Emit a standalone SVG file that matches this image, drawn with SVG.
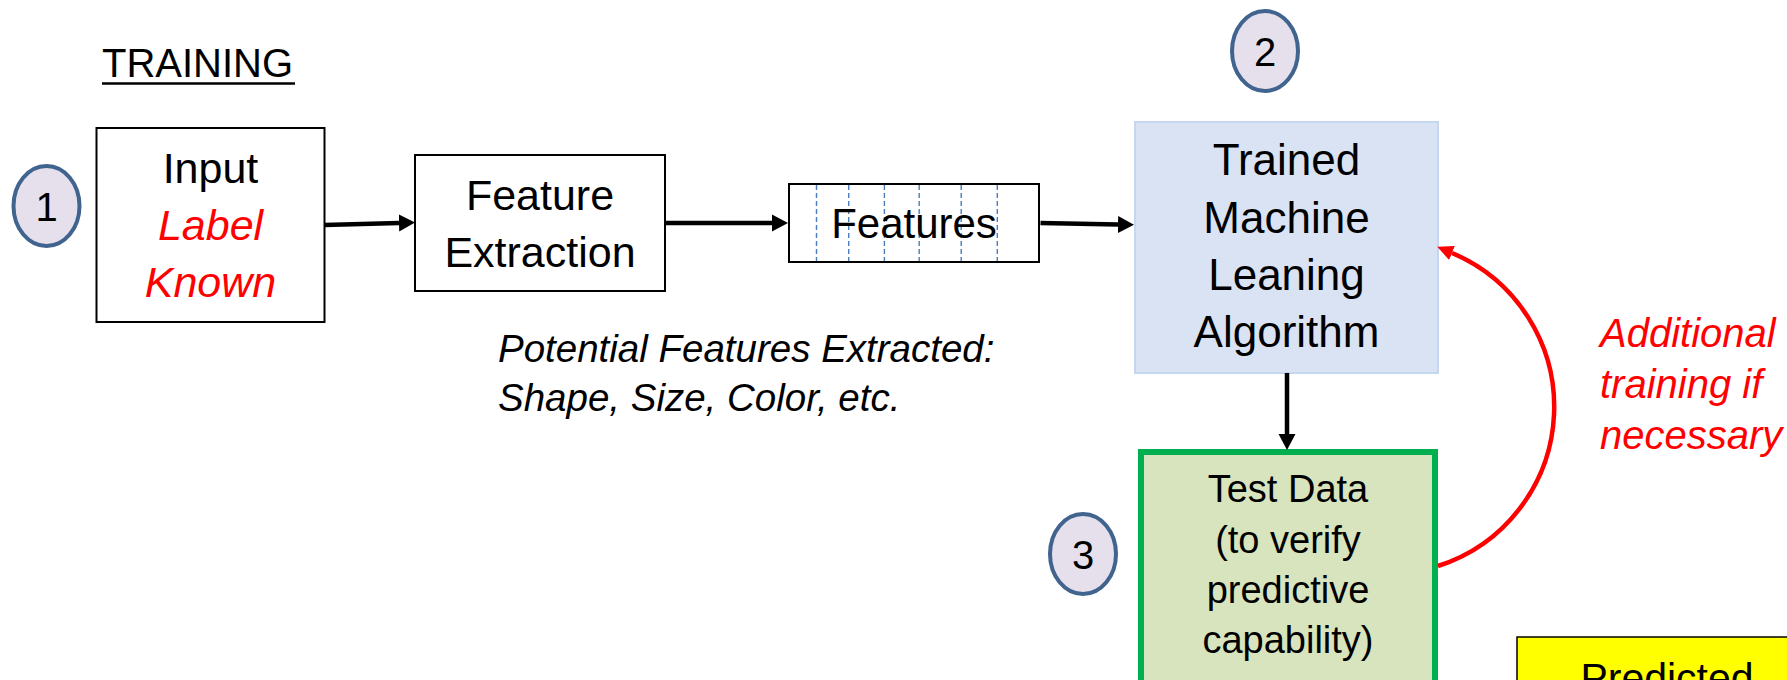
<svg xmlns="http://www.w3.org/2000/svg" width="1787" height="680" viewBox="0 0 1787 680">
  <style>
    text { font-family: "Liberation Sans", Arial, sans-serif; fill: #000; }
    .c { text-anchor: middle; }
    .big { font-size: 43px; }
    .ml { font-size: 44px; }
    .mid { font-size: 38px; }
    .it { font-style: italic; }
    .red { fill: #ff0000; }
    .box { fill: #fff; stroke: #000; stroke-width: 2; }
    .badge { fill: #e5e0ec; stroke: #41648f; stroke-width: 4; }
    .num { font-size: 40px; text-anchor: middle; }
    .arrow { stroke: #000; stroke-width: 4.5; fill: none; marker-end: url(#head); }
    .dash { stroke: #4a7ebb; stroke-width: 1.4; stroke-dasharray: 5 3; }
  </style>
  <defs>
    <marker id="head" markerUnits="userSpaceOnUse" markerWidth="18" markerHeight="18" refX="0" refY="9" orient="auto" viewBox="0 0 18 18">
      <path d="M0,0.5 L16,9 L0,17.5 Z" fill="#000"/>
    </marker>
    <marker id="headRed" markerUnits="userSpaceOnUse" markerWidth="18" markerHeight="18" refX="0" refY="9" orient="auto" viewBox="0 0 18 18">
      <path d="M0,1.5 L16,9 L0,16.5 Z" fill="#ff0000"/>
    </marker>
  </defs>

  <rect width="1787" height="680" fill="#fff"/>

  <!-- heading -->
  <g id="title">
    <text x="102" y="77" font-size="40">TRAINING</text>
    <line x1="102" y1="83.5" x2="295" y2="83.5" stroke="#000" stroke-width="2.5"/>
  </g>

  <!-- step badges -->
  <g id="badge1">
    <ellipse class="badge" cx="46.5" cy="206" rx="33" ry="40"/>
    <text class="num" x="46.5" y="221">1</text>
  </g>
  <g id="badge2">
    <ellipse class="badge" cx="1265" cy="51" rx="33" ry="40"/>
    <text class="num" x="1265" y="66">2</text>
  </g>
  <g id="badge3">
    <ellipse class="badge" cx="1083" cy="554" rx="33" ry="40"/>
    <text class="num" x="1083" y="569">3</text>
  </g>

  <!-- input -->
  <g id="input">
    <rect class="box" x="96.5" y="128" width="228" height="194"/>
    <text class="c big" x="210.5" y="183">Input</text>
    <text class="c big it red" x="210.5" y="240">Label</text>
    <text class="c big it red" x="210.5" y="297">Known</text>
  </g>

  <!-- feature extraction -->
  <g id="feature-extraction">
    <rect class="box" x="415" y="155" width="250" height="136"/>
    <text class="c big" x="540" y="210">Feature</text>
    <text class="c big" x="540" y="267">Extraction</text>
  </g>

  <!-- feature vector -->
  <g id="features">
    <rect class="box" x="789" y="184" width="250" height="78"/>
    <line class="dash" x1="816.5" y1="185" x2="816.5" y2="261"/>
    <line class="dash" x1="848.7" y1="185" x2="848.7" y2="261"/>
    <line class="dash" x1="884.4" y1="185" x2="884.4" y2="261"/>
    <line class="dash" x1="919.2" y1="185" x2="919.2" y2="261"/>
    <line class="dash" x1="961.2" y1="185" x2="961.2" y2="261"/>
    <line class="dash" x1="997.3" y1="185" x2="997.3" y2="261"/>
    <text class="c" x="914" y="238" font-size="42">Features</text>
  </g>

  <!-- note under the pipeline -->
  <g id="feature-note">
    <text class="it" x="498" y="362" font-size="38.5">Potential Features Extracted:</text>
    <text class="it" x="498" y="411" font-size="38.5">Shape, Size, Color, etc.</text>
  </g>

  <!-- model -->
  <g id="ml-algorithm">
    <rect x="1135" y="122" width="303" height="251" fill="#dae3f3" stroke="#c6d6ee" stroke-width="2"/>
    <text class="c ml" x="1286.5" y="175">Trained</text>
    <text class="c ml" x="1286.5" y="233">Machine</text>
    <text class="c ml" x="1286.5" y="290">Leaning</text>
    <text class="c ml" x="1286.5" y="347">Algorithm</text>
  </g>

  <!-- test data -->
  <g id="test-data">
    <rect x="1141" y="452" width="294" height="260" fill="#d7e4bd" stroke="#00b050" stroke-width="6"/>
    <text class="c mid" x="1288" y="502">Test Data</text>
    <text class="c mid" x="1288" y="553">(to verify</text>
    <text class="c mid" x="1288" y="603">predictive</text>
    <text class="c mid" x="1288" y="653">capability)</text>
  </g>

  <!-- retraining note -->
  <g id="retrain-note">
    <text class="it red" x="1600" y="347" font-size="40">Additional</text>
    <text class="it red" x="1600" y="398" font-size="40">training if</text>
    <text class="it red" x="1600" y="449" font-size="40">necessary</text>
  </g>

  <!-- prediction output -->
  <g id="predicted">
    <rect x="1517" y="637" width="320" height="100" fill="#ffff00" stroke="#000" stroke-width="1.5"/>
    <text class="c" x="1667" y="692" font-size="41">Predicted</text>
  </g>

  <!-- connectors -->
  <g id="connectors">
    <path class="arrow" d="M324.5,225 L399,223"/>
    <path class="arrow" d="M665.5,223 L772,223"/>
    <path class="arrow" d="M1040.5,223 L1118,224.5"/>
    <path class="arrow" d="M1287,373 L1287,434" stroke-width="4"/>
    <path d="M1438,566 A167,167 0 0 0 1452,253" fill="none" stroke="#ff0000" stroke-width="4.5" marker-end="url(#headRed)"/>
  </g>
</svg>
